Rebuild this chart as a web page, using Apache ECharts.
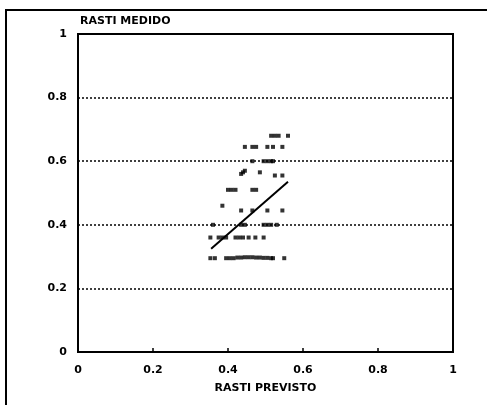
<!DOCTYPE html>
<html><head><meta charset="utf-8">
<script src="https://cdn.jsdelivr.net/npm/echarts@6/dist/echarts.min.js"></script>
<style>html,body{margin:0;padding:0;background:#fff}#c{width:487px;height:405px}</style>
</head><body><div id="c"></div>
<script>
// Scatter data: RASTI previsto (x) vs RASTI medido (y)
const pointsX = [
  0.515, 0.525, 0.535, 0.56,
  0.445, 0.465, 0.475, 0.505, 0.52, 0.545,
  0.465, 0.495, 0.505, 0.515, 0.52,
  0.435, 0.44, 0.445, 0.485, 0.525, 0.545,
  0.40, 0.41, 0.42, 0.465, 0.475,
  0.385,
  0.435, 0.465, 0.505, 0.545,
  0.36, 0.435, 0.445, 0.495, 0.505, 0.515, 0.53,
  0.353, 0.375, 0.385, 0.395, 0.42, 0.43, 0.44, 0.455, 0.473, 0.495,
  0.353, 0.365, 0.395, 0.405, 0.415, 0.425, 0.435, 0.445, 0.455, 0.465, 0.475, 0.485, 0.495, 0.505, 0.515, 0.52, 0.55
];
const pointsY = [
  0.68, 0.68, 0.68, 0.68,
  0.645, 0.645, 0.645, 0.645, 0.645, 0.645,
  0.60, 0.60, 0.60, 0.60, 0.60,
  0.56, 0.565, 0.57, 0.565, 0.555, 0.555,
  0.51, 0.51, 0.51, 0.51, 0.51,
  0.46,
  0.445, 0.445, 0.445, 0.445,
  0.40, 0.40, 0.40, 0.40, 0.40, 0.40, 0.40,
  0.36, 0.36, 0.36, 0.36, 0.36, 0.36, 0.36, 0.36, 0.36, 0.36,
  0.295, 0.295, 0.295, 0.295, 0.295, 0.297, 0.297, 0.298, 0.298, 0.298, 0.297, 0.297, 0.296, 0.296, 0.295, 0.295, 0.295
];
// Regression line end points
const fitX = [0.355, 0.56];
const fitY = [0.325, 0.535];
const ticks = [0, 0.2, 0.4, 0.6, 0.8, 1];
const xTitle = 'RASTI PREVISTO';
const yTitle = 'RASTI MEDIDO';

const font = 'DejaVu Sans';
const chart = echarts.init(document.getElementById('c'), null, {renderer: 'canvas'});
chart.setOption({
  animation: false,
  backgroundColor: '#fff',
  grid: {left: 78, right: 34, top: 34, bottom: 53, show: true, borderColor: '#000', borderWidth: 2, backgroundColor: 'transparent'},
  graphic: [
    {type: 'line', shape: {x1: 5, y1: 10, x2: 487, y2: 10}, style: {stroke: '#000', lineWidth: 2}},
    {type: 'line', shape: {x1: 6, y1: 10, x2: 6, y2: 405}, style: {stroke: '#000', lineWidth: 2}}
  ],
  xAxis: {
    type: 'value', min: ticks[0], max: ticks[ticks.length - 1], interval: 0.2,
    name: xTitle, nameLocation: 'middle', nameGap: 31,
    nameTextStyle: {fontFamily: font, fontWeight: 'bold', fontSize: 11, color: '#000'},
    axisLine: {show: true, lineStyle: {color: '#000', width: 2}},
    axisTick: {show: true, inside: true, length: 4, lineStyle: {color: '#000', width: 1.5}},
    axisLabel: {margin: 13, fontFamily: font, fontWeight: 'bold', fontSize: 11, color: '#000'},
    splitLine: {show: false}
  },
  yAxis: {
    type: 'value', min: ticks[0], max: ticks[ticks.length - 1], interval: 0.2,
    name: yTitle, nameLocation: 'end', nameGap: 7,
    nameTextStyle: {fontFamily: font, fontWeight: 'bold', fontSize: 11, color: '#000', align: 'left', verticalAlign: 'bottom', padding: [0, 0, 0, 2]},
    axisLine: {show: true, lineStyle: {color: '#000', width: 2}},
    axisTick: {show: false},
    axisLabel: {margin: 11, fontFamily: font, fontWeight: 'bold', fontSize: 11, color: '#000'},
    splitLine: {show: true, showMinLine: false, showMaxLine: false, lineStyle: {color: '#000', width: 1.5, type: [2, 2]}}
  },
  series: [
    {
      type: 'scatter', symbol: 'rect', symbolSize: [4, 4],
      itemStyle: {color: '#000'},
      data: pointsX.map((x, i) => [x, pointsY[i]])
    },
    {
      type: 'line', symbol: 'none',
      lineStyle: {color: '#000', width: 2},
      data: fitX.map((x, i) => [x, fitY[i]])
    }
  ]
});
</script>
</body></html>
